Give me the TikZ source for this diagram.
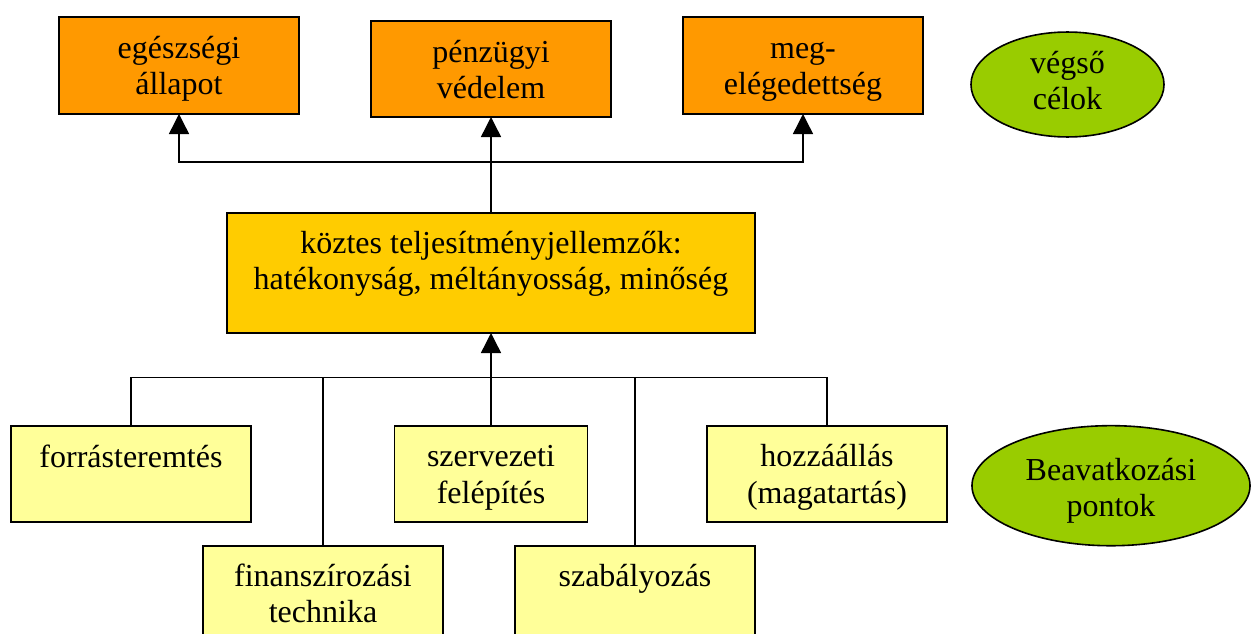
\documentclass[tikz,border=0pt]{standalone}
\usepackage{fontspec}
\setmainfont{Liberation Serif}
\usetikzlibrary{arrows.meta,shapes.geometric}
\definecolor{topor}{HTML}{FF9900}
\definecolor{midgold}{HTML}{FFCC00}
\definecolor{lowyel}{HTML}{FFFF99}
\definecolor{ovgreen}{HTML}{99CC00}
\newcommand{\cellbox}[4]{\parbox[c][#2][t]{#1}{\centering\vspace*{#3}\strut #4}}
\tikzset{
  boxbase/.style={draw, line width=1.6pt, inner sep=0pt, outer sep=0pt},
  topbox/.style={boxbase, fill=topor},
  midbox/.style={boxbase, fill=midgold},
  lowbox/.style={boxbase, fill=lowyel},
  ovalbox/.style={ellipse, draw, line width=1.6pt, fill=ovgreen, inner sep=0pt, outer sep=0pt},
  conn/.style={line width=1.4pt},
  arr/.style={-{Triangle[width=20pt,length=20pt]}}
}
\begin{document}
\begin{tikzpicture}[x=1pt,y=-1pt,font=\fontsize{32}{36.5}\selectfont]
\useasboundingbox (0,0) rectangle (1251,634);
\clip (0,0) rectangle (1251,634);
% top row
\node[topbox] (b1) at (179,65.5) {\cellbox{240pt}{97pt}{15.5pt}{egészségi\\\strut állapot}};
\node[topbox] (b2) at (491,69) {\cellbox{240pt}{96pt}{15.5pt}{pénzügyi\\\strut védelem}};
\node[topbox] (b3) at (803,65.5) {\cellbox{240pt}{97pt}{15.5pt}{meg-\\\strut elégedettség}};
\node[ovalbox] (e1) at (1067.5,84.5) {\cellbox{136.5pt}{74.2pt}{0.4pt}{végső\\\strut célok}};
% middle
\node[midbox] (mid) at (491,273) {\cellbox{528pt}{120pt}{14.5pt}{köztes teljesítményjellemzők:\\\strut hatékonyság, méltányosság, minőség}};
% bottom row
\node[lowbox] (forr) at (131,474) {\cellbox{240pt}{96pt}{15.5pt}{forrásteremtés}};
\node[lowbox] (szerv) at (491,474) {\cellbox{193pt}{96pt}{15pt}{szervezeti\\\strut felépítés}};
\node[lowbox] (hozz) at (827,474) {\cellbox{240pt}{96pt}{15pt}{hozzáállás\\\strut (magatartás)}};
\node[lowbox] (fin) at (323,595.7) {\cellbox{240pt}{100pt}{15pt}{finanszírozási\\\strut technika}};
\node[lowbox] (szab) at (635,595.7) {\cellbox{240pt}{100pt}{15.5pt}{szabályozás}};
\node[ovalbox] (e2) at (1111,485.7) {\cellbox{196.6pt}{84.9pt}{11.2pt}{Beavatkozási\\\strut pontok}};
% connectors
\coordinate (jt) at (491,162);
\coordinate (jb) at (491,377.5);
\draw[conn,arr] (mid.north) -- (b2.south);
\draw[conn,arr] (jt) -| (b1.south);
\draw[conn,arr] (jt) -| (b3.south);
\draw[conn,arr] (szerv.north) -- (mid.south);
\draw[conn] (jb) -| (forr.north);
\draw[conn] (jb) -| (fin.north);
\draw[conn] (jb) -| (szab.north);
\draw[conn] (jb) -| (hozz.north);
\end{tikzpicture}
\end{document}
